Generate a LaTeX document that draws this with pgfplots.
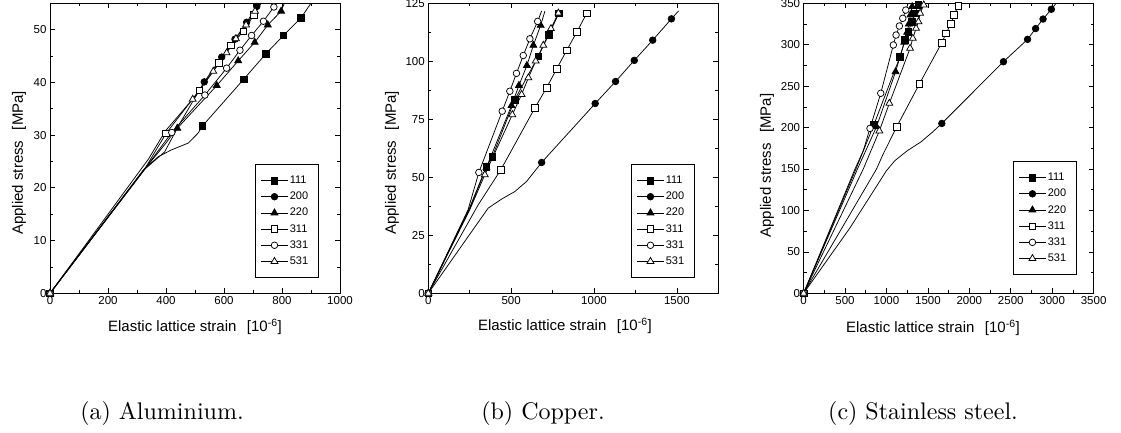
\documentclass[border=0pt]{standalone}
\usepackage{fontspec}
\newfontfamily\arial{Liberation Sans}
\newfontfamily\capfont{lmroman10-regular.otf}
\usepackage{pgfplots}
\pgfplotsset{compat=1.18}

\pgfplotsset{
  panel/.style={
    anchor=south west, scale only axis,
    width=290pt, height=290pt,
    axis line style={line width=1pt},
    tick align=inside,
    tick style={black, line width=0.7pt},
    major tick length=5pt, minor tick length=3pt,
    minor tick num=1,
    tick label style={font=\arial\fontsize{11.5}{13}\selectfont},
    /pgf/number format/assume math mode=true,
    /pgf/number format/1000 sep={},
    label style={font=\arial\fontsize{15}{18}\selectfont},
    xlabel={Elastic lattice strain\hspace{0.7em}[10\textsuperscript{-6}]},
    ylabel={Applied stress\hspace{0.7em}[MPa]},
    legend cell align=left,
    legend style={draw=black, line width=0.8pt, fill=white,
      font=\arial\fontsize{11}{12}\selectfont,
      anchor=south east, inner xsep=5pt, inner ysep=10pt,
      row sep=4pt, nodes={inner sep=1.5pt}},
    legend image code/.code={
      \draw[##1] (0pt,0pt) -- (27pt,0pt);
      \draw[##1, only marks, mark indices={1}] plot coordinates {(13.5pt,0pt)};
    },
    every axis plot/.append style={black, line width=0.75pt, mark size=3.3pt},
  },
  s111/.style={mark=square*, mark options={solid, fill=black}},
  s200/.style={mark=*, mark options={solid, fill=black}},
  s220/.style={mark=triangle*, mark size=4pt, mark options={solid, fill=black}},
  s311/.style={mark=square*, mark options={solid, fill=white}},
  s331/.style={mark=*, mark options={solid, fill=white}},
  s531/.style={mark=triangle*, mark size=4pt, mark options={solid, fill=white}},
}

\begin{document}
\begin{tikzpicture}[x=1pt, y=1pt]
\path[use as bounding box] (0,0) rectangle (1121,-433);

% (a) Aluminium
\begin{axis}[panel, at={(50pt,-293.3pt)},
  xmin=0, xmax=1000, ymin=0, ymax=55,
  xtick={0,200,...,1000}, ytick={0,10,...,50},
  xlabel style={at={(axis description cs:0.5,-0.117)}, anchor=center},
  ylabel style={at={(axis description cs:-0.107,0.45)}, anchor=center},
  legend style={at={(0.928,0.053)}},
  legend entries={111\kern4pt, 200\kern4pt, 220\kern4pt, 311\kern4pt, 331\kern4pt, 531\kern4pt}]
\addplot[s111, mark indices={1,7,8,9,10,11}] coordinates {
  (0,0) (322,23.4) (373,25.9) (419,27.2) (477,28.5) (511,30.4) (525,31.7)
  (668,40.6) (744,45.4) (805,48.9) (865,52.2) (912,56)};
\addplot[s200, mark indices={1,5,6,7,8,9}] coordinates {
  (0,0) (330,23.8) (400,28.5) (440,31.5) (532,40.1) (592,44.8) (638,48.2)
  (678,51.4) (713,54.4) (725,55.6)};
\addplot[s220, mark indices={1,4,5,6,7,8,9}] coordinates {
  (0,0) (328,23.6) (395,26.8) (439,31.3) (575,39.4) (649,44.1) (706,47.6)
  (751,50.9) (797,53.5) (815,56)};
\addplot[s311, mark indices={1,3,4,5,6,7,8}] coordinates {
  (0,0) (330,23.9) (400,30.3) (515,38.5) (583,43.7) (624,47.0) (667,49.7)
  (703,52.8) (735,55.6)};
\addplot[s331, mark indices={1,3,4,5,6,7,8,9}] coordinates {
  (0,0) (335,24.2) (420,30.5) (534,37.6) (609,42.7) (655,46.1) (695,48.9)
  (736,51.6) (772,54.3) (785,55.4)};
\addplot[s531, mark indices={1,4,5,6,7,8,9}] coordinates {
  (0,0) (340,25.5) (398,30.8) (492,36.8) (563,42.1) (609,45.6) (641,48.3)
  (676,50.9) (707,53.5) (722,55.6)};
\end{axis}

% (b) Copper
\begin{axis}[panel, at={(428.3pt,-293.3pt)},
  xmin=0, xmax=1750, ymin=0, ymax=125,
  xtick={0,500,1000,1500}, ytick={0,25,...,125},
  xlabel style={at={(axis description cs:0.471,-0.112)}, anchor=center},
  ylabel style={at={(axis description cs:-0.125,0.45)}, anchor=center},
  legend style={at={(0.92,0.053)}},
  legend entries={111\kern4pt, 200\kern4pt, 220\kern4pt, 311\kern4pt, 331\kern4pt, 531\kern4pt}]
\addplot[s111, mark indices={1,3,4,5,6,7,8}] coordinates {
  (0,0) (250,37) (350,54.5) (386,58.8) (522,83.5) (664,102.2) (728,111.5) (788,120.7)};
\addplot[s200, mark indices={1,6,7,8,9,10,11}] coordinates {
  (0,0) (361,36.7) (442,40.6) (523,43.9) (593,48.2) (684,56.4) (1007,81.8)
  (1130,91.3) (1243,100.4) (1354,109.1) (1467,118.3) (1510,121.7)};
\addplot[s220, mark indices={1,3,4,5,6,7,8}] coordinates {
  (0,0) (250,36.5) (351,54.3) (502,80.9) (547,89.6) (595,98.2) (634,106.9)
  (678,115.5) (704,121.7)};
\addplot[s311, mark indices={1,3,4,5,6,7,8,9}] coordinates {
  (0,0) (300,38) (438,53.3) (643,79.9) (714,88.6) (775,96.8) (835,104.7)
  (896,112.6) (956,120.7)};
\addplot[s331, mark indices={1,3,4,5,6,7,8,9}] coordinates {
  (0,0) (240,36) (305,52.1) (446,78.5) (492,87.1) (532,94.8) (573,102.5)
  (613,109.7) (660,117.2) (684,121.7)};
\addplot[s531, mark indices={1,3,4,5,6,7,8,9,10}] coordinates {
  (0,0) (250,36) (341,51.1) (507,77.0) (563,85.7) (604,92.9) (648,100.1)
  (694,106.9) (740,114.1) (785,120.8)};
\end{axis}

% (c) Stainless steel
\begin{axis}[panel, at={(803.6pt,-293.3pt)},
  xmin=0, xmax=3500, ymin=0, ymax=350,
  xtick={0,500,...,3500}, ytick={0,50,...,350},
  xlabel style={at={(axis description cs:0.446,-0.118)}, anchor=center},
  ylabel style={at={(axis description cs:-0.126,0.44)}, anchor=center},
  legend style={at={(0.943,0.063)}},
  legend entries={111\kern4pt, 200\kern4pt, 220\kern4pt, 311\kern4pt, 331\kern4pt, 531\kern4pt}]
\addplot[s111, mark indices={1,3,4,5,6,7,8,9}] coordinates {
  (0,0) (640,152) (850,204) (1164,285.6) (1225,305.8) (1265,315.7)
  (1305,327.8) (1345,338) (1386,348)};
\addplot[s200, mark indices={1,8,9,10,11,12,13}] coordinates {
  (0,0) (560,79) (1000,148) (1100,160) (1250,172) (1420,183) (1560,195)
  (1668,205) (2412,279.5) (2703,306.5) (2800,319.5) (2890,331) (2990,342.8)
  (3056,351)};
\addplot[s220, mark indices={1,3,4,5,6,7,8,9}] coordinates {
  (0,0) (650,150) (880,201) (1110,267.4) (1215,303) (1250,315) (1270,325)
  (1290,336) (1310,346)};
\addplot[s311, mark indices={1,4,5,6,7,8,9,10}] coordinates {
  (0,0) (880,150) (960,168) (1124,201) (1397,252.6) (1668,302.5) (1720,313.8)
  (1776,325) (1816,336) (1868,347)};
\addplot[s331, mark indices={1,4,5,6,7,8,9,10}] coordinates {
  (0,0) (620,150) (720,172) (801,199) (931,241.4) (1083,299.7) (1116,311.7)
  (1156,322.6) (1197,331.9) (1233,341.8) (1265,351)};
\addplot[s531, mark indices={1,3,4,5,6,7,8,9,10}] coordinates {
  (0,0) (720,150) (914,196) (1035,229.3) (1285,295.7) (1318,307.7)
  (1357,319.8) (1386,327.8) (1406,338) (1450,348)};
\end{axis}

\node[anchor=base, font=\capfont\fontsize{24}{28}\selectfont] at (162,-419) {(a) Aluminium.};
\node[anchor=base, font=\capfont\fontsize{24}{28}\selectfont] at (543,-419) {(b) Copper.};
\node[anchor=base, font=\capfont\fontsize{24}{28}\selectfont] at (923,-419) {(c) Stainless steel.};
\end{tikzpicture}
\end{document}
